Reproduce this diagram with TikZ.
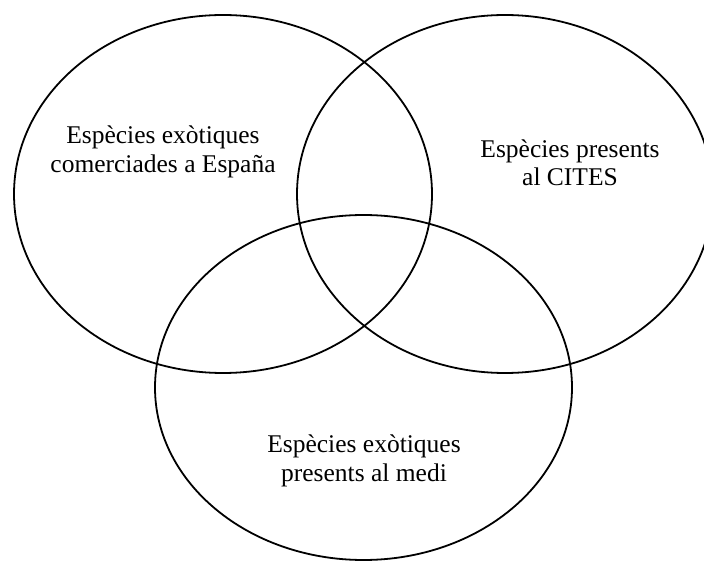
\documentclass[tikz,border=0pt]{standalone}
\usepackage{fontspec}
\setmainfont{Liberation Serif}
\begin{document}
\begin{tikzpicture}[x=1pt,y=-1pt,
  setellipse/.style={draw=black,line width=1.8pt},
  setlabel/.style={align=center,font=\fontsize{25.5}{28.5}\selectfont,inner sep=0pt}]
\useasboundingbox (0,0) rectangle (704,561);
\draw[setellipse] (223,194) ellipse [x radius=209, y radius=179];
\draw[setellipse] (505,194) ellipse [x radius=208, y radius=179];
\draw[setellipse] (363.5,387.5) ellipse [x radius=208.5, y radius=172.5];
\node[setlabel] (comerc) at (163,152) {Espècies exòtiques\\comerciades a España};
\node[setlabel] (cites) at (570,163) {Espècies presents\\al CITES};
\node[setlabel] (medi) at (364,461) {Espècies exòtiques\\presents al medi};
\end{tikzpicture}
\end{document}
